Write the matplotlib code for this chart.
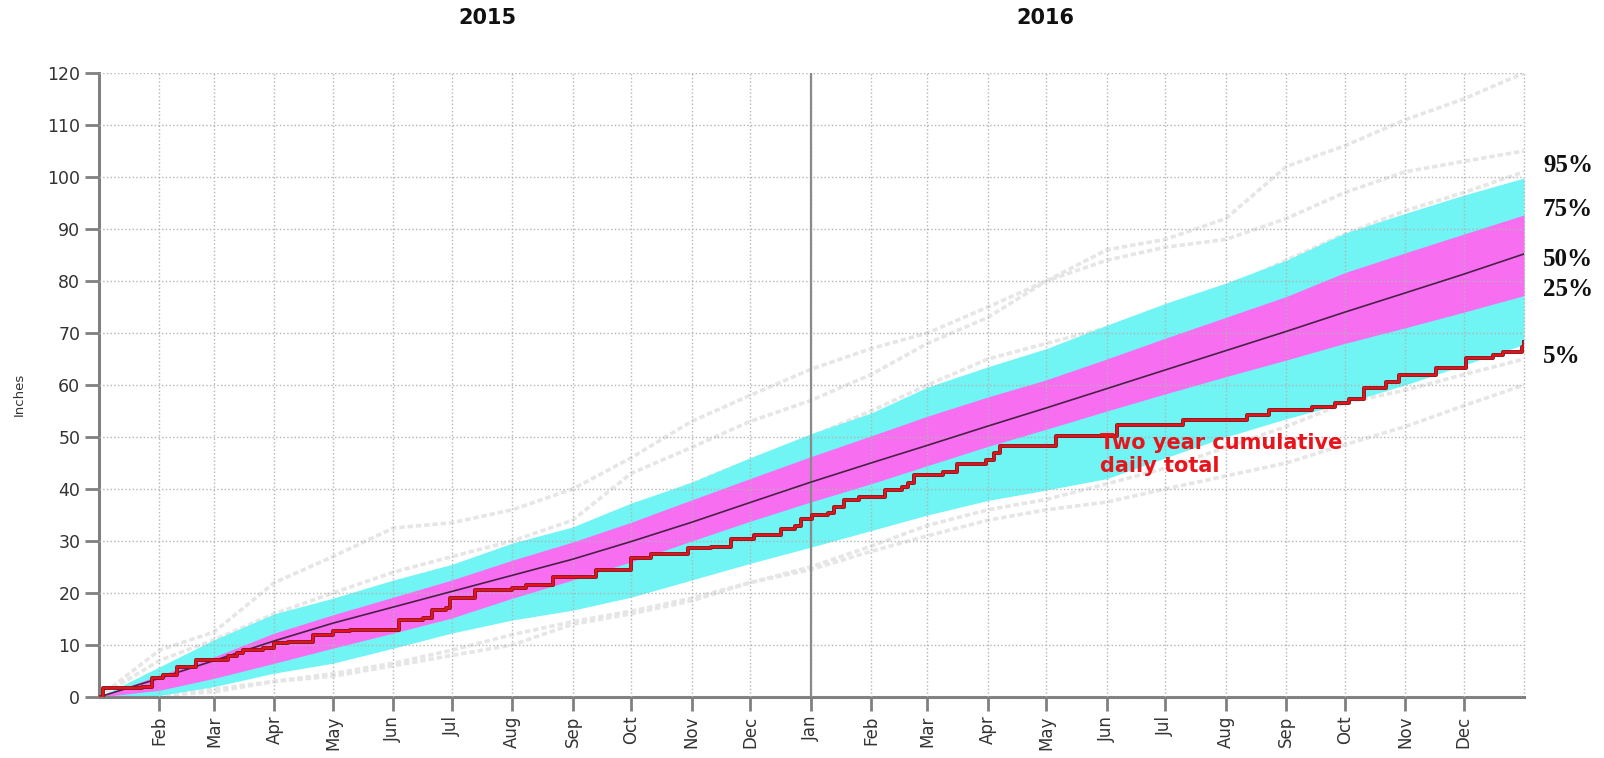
import numpy as np
import pandas as pd
import matplotlib
matplotlib.use('Agg')
import matplotlib.pyplot as plt
import matplotlib.patheffects as pe

# month-start nodes, Jan 2015 .. Jan 2017
months = pd.date_range('2015-01-01', '2017-01-01', freq='MS')

# percentile envelopes (inches) at each month start
p95 = [0, 5.8, 11.0, 16.0, 19.0, 22.5, 25.5, 29.6, 32.7, 37.3, 41.3, 46.0, 50.6,
       54.6, 59.6, 63.5, 67.0, 71.5, 75.7, 79.6, 84.0, 89.2, 93.0, 96.5, 99.8]
p75 = [0, 4.2, 7.7, 12.3, 15.8, 19.2, 22.5, 26.3, 29.8, 33.6, 37.9, 42.0, 46.2,
       50.2, 54.0, 57.7, 61.0, 65.0, 69.0, 73.0, 77.0, 81.6, 85.4, 89.0, 92.7]
p50 = [0, 3.6, 7.0, 10.8, 14.2, 17.3, 20.3, 23.4, 26.5, 29.9, 33.6, 37.4, 41.3,
       45.0, 48.4, 52.1, 55.6, 59.3, 62.9, 66.6, 70.3, 74.0, 77.7, 81.3, 85.2]
p25 = [0, 1.3, 3.6, 6.5, 9.4, 12.3, 15.2, 19.0, 22.5, 26.0, 30.0, 33.8, 37.5,
       41.0, 44.5, 48.2, 51.5, 55.0, 58.3, 61.6, 64.8, 68.0, 71.0, 74.0, 77.2]
p5 = [0, 0.3, 2.0, 4.6, 6.5, 9.4, 12.3, 14.8, 16.7, 19.2, 22.5, 25.7, 28.8,
      32.0, 35.0, 37.8, 39.8, 42.0, 46.0, 50.0, 53.5, 56.5, 60.0, 63.8, 67.8]

# individual two-year traces from the record (light grey background)
g1 = [0, 9.0, 12.5, 22.0, 27.0, 32.5, 33.5, 36.0, 40.0, 46.0, 53.0, 58.0, 63.0,
      67.0, 70.0, 75.0, 80.0, 86.0, 88.0, 92.0, 102.0, 106.0, 111.0, 115.0, 120.0]
g2 = [0, 7.0, 11.0, 16.0, 20.0, 24.0, 27.0, 30.0, 34.0, 43.0, 48.0, 53.0, 57.0,
      62.0, 68.0, 73.0, 80.0, 84.0, 86.5, 88.0, 92.0, 97.0, 101.0, 103.0, 105.0]
g3 = [0, 4.0, 8.0, 13.5, 17.5, 21.5, 24.5, 28.0, 31.5, 36.0, 41.0, 45.5, 50.0,
      55.0, 60.0, 65.0, 68.0, 71.0, 75.0, 78.5, 84.0, 89.0, 93.5, 97.0, 101.0]
g4 = [0, 0.5, 1.5, 3.0, 4.5, 6.5, 9.0, 12.0, 14.5, 16.5, 19.0, 22.0, 24.5,
      28.0, 31.0, 34.0, 36.0, 37.5, 40.0, 42.5, 45.0, 48.5, 52.0, 56.0, 60.0]
g5 = [0, 0.3, 1.0, 3.0, 4.0, 6.0, 8.0, 10.0, 14.0, 16.0, 18.5, 22.0, 25.0,
      29.0, 33.0, 36.0, 38.0, 41.0, 44.0, 48.0, 52.0, 56.5, 59.0, 62.0, 65.0]
greys = [g1, g2, g3, g4, g5]

# two year cumulative daily total: (day since 1 Jan 2015, inches)
red_days = [0, 2, 22, 27, 33, 40, 50, 66, 71, 74, 84, 90, 97, 110, 120, 129, 154,
            166, 171, 178, 180, 193, 212, 219, 233, 255, 273, 283, 302, 314, 324,
            336, 350, 357, 360, 366, 374, 377, 382, 390, 403, 412, 415, 418, 433,
            440, 455, 459, 462, 491, 522, 556, 589, 600, 622, 634, 641, 649, 660,
            667, 686, 701, 715, 720, 730, 731]
red_vals = [0, 1.7, 2.0, 3.6, 4.2, 5.8, 7.1, 7.8, 8.4, 9.0, 9.4, 10.3, 10.6, 11.9,
            12.6, 12.9, 14.8, 15.1, 16.7, 17.1, 19.0, 20.5, 20.9, 21.5, 23.0, 24.4,
            26.8, 27.5, 28.6, 28.8, 30.3, 31.2, 32.3, 32.8, 34.2, 35.0, 35.3, 36.6,
            37.9, 38.5, 39.9, 40.4, 41.2, 42.7, 43.3, 44.9, 45.6, 46.9, 48.3, 50.1,
            52.3, 53.3, 54.2, 55.2, 55.8, 56.5, 57.4, 59.4, 60.6, 61.9, 63.2, 65.1,
            65.8, 66.4, 67.4, 68.3]

pct_labels = ['95%', '75%', '50%', '25%', '5%']
year_labels = ['2015', '2016']

start = pd.Timestamp('2015-01-01')
end = pd.Timestamp('2017-01-01')
red_dates = start + pd.to_timedelta(red_days, unit='D')

fig = plt.figure(figsize=(16.04, 7.58), dpi=100)
ax = fig.add_axes([99 / 1604, 1 - 697 / 758, 1425 / 1604, 624 / 758])

for g in greys:
    ax.plot(months, g, color='#e6e6e6', lw=2.6, ls=(0, (1.5, 0.8)), zorder=0.5)

ax.fill_between(months, p5, p95, color='#70f4f4', lw=0, zorder=1)
ax.fill_between(months, p25, p75, color='#f76ef0', lw=0, zorder=1.1)
ax.plot(months, p50, color='#4a2048', lw=1.2, zorder=3)

ax.step(red_dates, red_vals, where='post', color='#e8101a', lw=1.6, zorder=4,
        path_effects=[pe.Stroke(linewidth=2.8, foreground='#7a1a1a'), pe.Normal()])

ax.set_xlim(start, end)
ax.set_ylim(0, 120)
ax.set_yticks(np.arange(0, 121, 10))

tick_dates = [d for d in months if d != start and d != end]
ax.set_xticks(tick_dates)
ax.set_xticklabels([d.strftime('%b') for d in tick_dates], rotation=90,
                   fontsize=12, color='#333333')
ax.tick_params(axis='y', labelsize=12.5, labelcolor='#333333')
ax.tick_params(axis='both', direction='out', length=10, width=2, color='#808080')

ax.set_axisbelow(False)
ax.grid(True, ls=':', color='#b4b4b4', lw=1)
ax.axvline(end, ls=':', color='#b4b4b4', lw=1, clip_on=False)
ax.axvline(pd.Timestamp('2016-01-01'), color='#8a8a8a', lw=1.6, zorder=2.6)

for s in ['top', 'right']:
    ax.spines[s].set_visible(False)
for s in ['left', 'bottom']:
    ax.spines[s].set_color('#808080')
    ax.spines[s].set_linewidth(2.2)

fig.text(19 / 1604, 1 - 394 / 758, 'Inches', rotation=90, fontsize=9.5,
         color='#333333', ha='center', va='center')

for lab, xp in zip(year_labels, [487, 1045]):
    fig.text(xp / 1604, 1 - 18 / 758, lab, fontsize=15, fontweight='bold',
             ha='center', va='center', color='#111111')

for lab, yp in zip(pct_labels, [165, 210, 259, 290, 357]):
    fig.text(1543 / 1604, 1 - yp / 758, lab, fontsize=18, fontweight='bold',
             family='Liberation Serif', ha='left', va='center', color='#111111')

fig.text(1100 / 1604, 1 - 433 / 758, 'Two year cumulative\ndaily total',
         fontsize=15, fontweight='bold', color='#e8141c', ha='left', va='top',
         linespacing=1.2, zorder=5)

fig.savefig('out.png', dpi=100)
